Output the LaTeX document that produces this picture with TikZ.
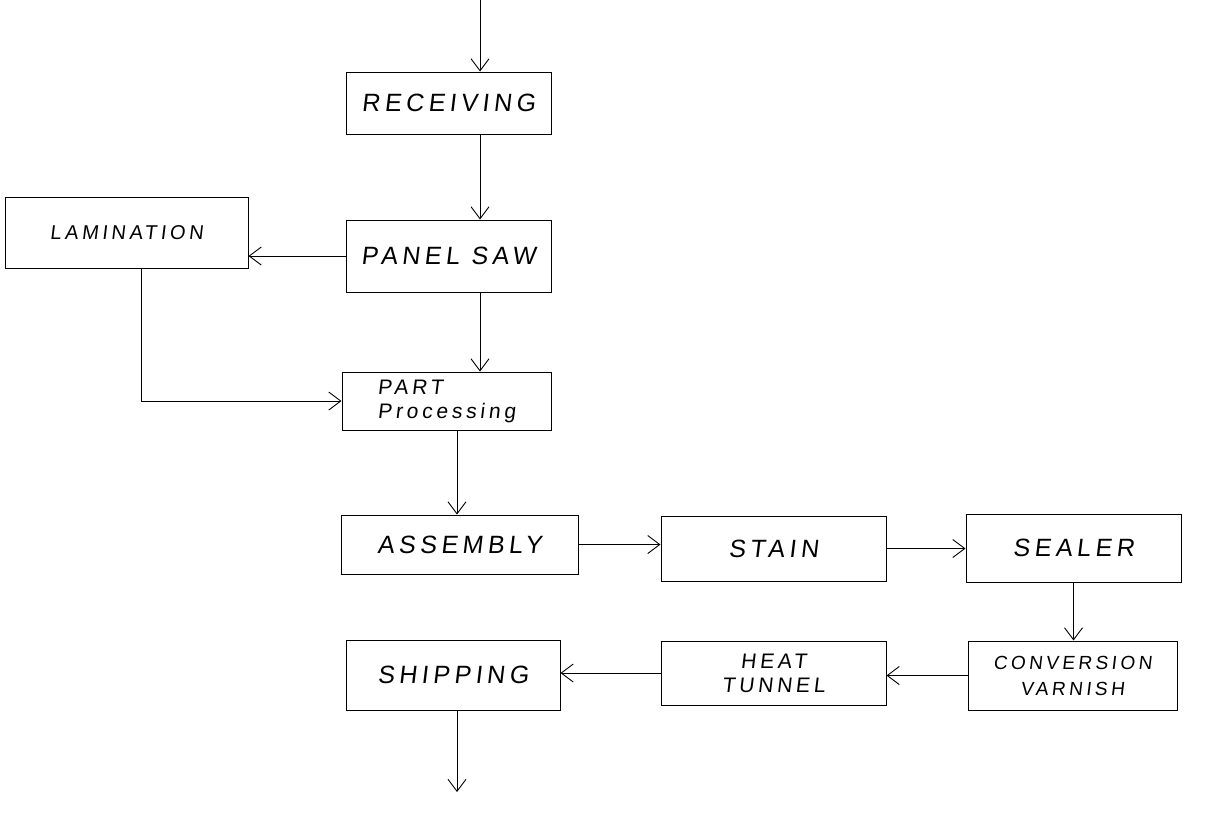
\documentclass[tikz,border=0pt]{standalone}
\usepackage{fontspec}
\newfontfamily\hand[LetterSpace=18,FakeSlant=0.12]{Liberation Sans}
\usetikzlibrary{arrows.meta,calc}
\tikzset{
  stage/.style={draw,line width=1pt,font=\hand\fontsize{25}{30}\selectfont,inner sep=0pt},
  flow/.style={line width=0.9pt,-{Straight Barb[length=12pt,width=18pt]}}
}
\begin{document}
\begin{tikzpicture}[x=1pt,y=-1pt]
  \useasboundingbox (0,0) rectangle (1207,815);
  % stations
  \node[stage,minimum width=205pt,minimum height=62pt] (receiving) at (448.5,103){RECEIVING};
  \node[stage,minimum width=205pt,minimum height=72pt] (panelsaw) at (448.5,256){PANEL SAW};
  \node[stage,minimum width=243pt,minimum height=71pt,font=\hand\fontsize{20}{24}\selectfont] (lamination) at (126.5,232.5){LAMINATION};
  \node[stage,minimum width=209pt,minimum height=58pt,align=left,font=\hand\fontsize{21}{24}\selectfont] (partproc) at (446.5,401){PART\\Processing};
  \node[stage,minimum width=237pt,minimum height=59pt] (assembly) at (459.5,544.5){ASSEMBLY};
  \node[stage,minimum width=225pt,minimum height=65pt] (stain) at (773.5,548.5){STAIN};
  \node[stage,minimum width=215pt,minimum height=68pt] (sealer) at (1073.5,548){SEALER};
  \node[stage,minimum width=209pt,minimum height=69pt,align=center,font=\hand\fontsize{19}{26}\selectfont] (varnish) at (1072.5,675.5){CONVERSION\\VARNISH};
  \node[stage,minimum width=225pt,minimum height=64pt,align=center,font=\hand\fontsize{21}{24}\selectfont] (heat) at (773.5,673){HEAT\\TUNNEL};
  \node[stage,minimum width=214pt,minimum height=70pt] (shipping) at (453,675){SHIPPING};
  % free ends
  \coordinate (in) at (480,0);
  \coordinate (out) at (457,792);
  % flow
  \draw[flow] (in) -- (receiving.north -| in);
  \draw[flow] (receiving.south -| in) -- (panelsaw.north -| in);
  \draw[flow] (panelsaw.west) -- (panelsaw.west -| lamination.east);
  \draw[flow] (panelsaw.south -| in) -- (partproc.north -| in);
  \draw[flow] ([xshift=15pt]lamination.south) |- (partproc.west);
  \draw[flow] (partproc.south -| out) -- (assembly.north -| out);
  \draw[flow] (assembly.east) -- (assembly.east -| stain.west);
  \draw[flow] (stain.east) -- (stain.east -| sealer.west);
  \draw[flow] (sealer.south) -- (varnish.north -| sealer.south);
  \draw[flow] (varnish.west) -- (varnish.west -| heat.east);
  \draw[flow] (heat.west) -- (heat.west -| shipping.east);
  \draw[flow] (shipping.south -| out) -- (out);
\end{tikzpicture}
\end{document}
